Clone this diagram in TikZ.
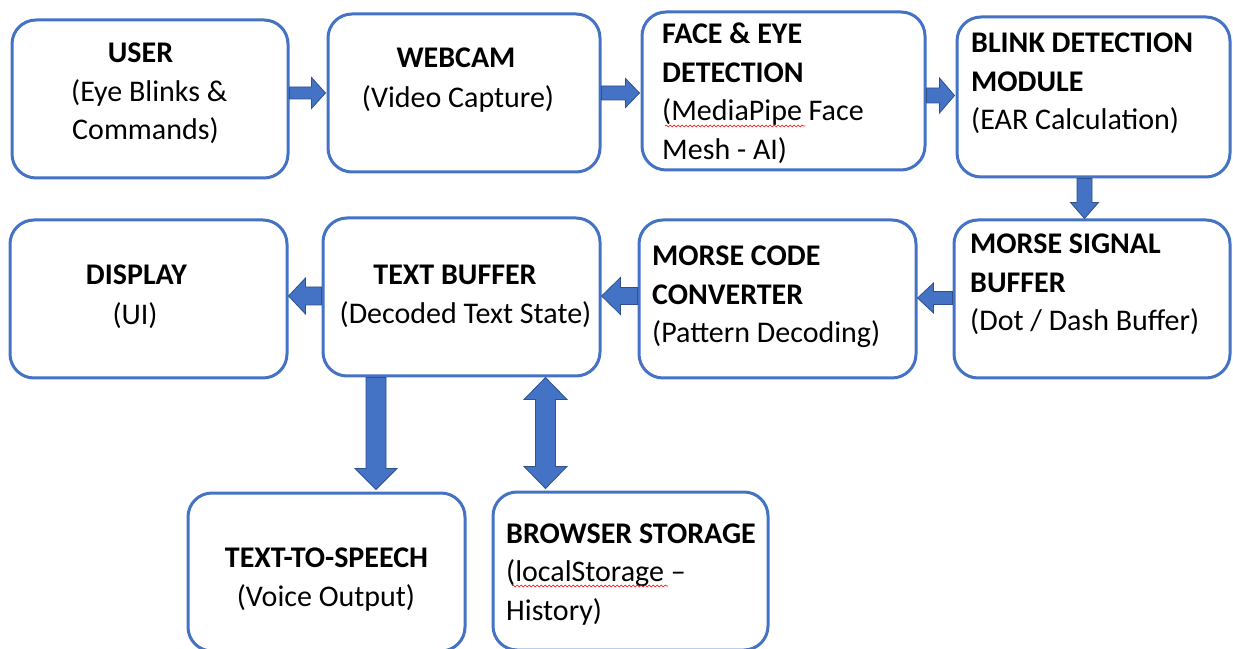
\documentclass[tikz,border=0pt]{standalone}
\usepackage{fontspec}
\setmainfont{Carlito}
\usetikzlibrary{calc,decorations.pathmorphing}
\definecolor{boxblue}{HTML}{4472C4}
\definecolor{arrowedge}{HTML}{2F528F}
\tikzset{
  box/.style={draw=boxblue, line width=3pt, rounded corners=24pt, fill=white,
    inner sep=0pt, minimum width=276pt, minimum height=158pt},
  txt/.style={font=\fontsize{30}{38.5}\selectfont, inner sep=0pt, anchor=base},
  ttl/.style={txt, font=\fontsize{30}{38.5}\selectfont\bfseries},
  lft/.style={anchor=base west},
  barrow/.style={fill=boxblue, draw=arrowedge, line width=0.8pt, line join=miter},
  squig/.style={draw=red, line width=0.6pt, decorate,
    decoration={snake, segment length=4pt, amplitude=0.9pt}}
}
% horizontal block arrow: start, tip, y, shaft half, head half, signed head length
\newcommand{\blkH}[6]{%
  \filldraw[barrow] let \p1=#1, \p2=#2 in
    (\x1,{#3pt+#4pt}) -- ({\x2-(#6pt)},{#3pt+#4pt}) -- ({\x2-(#6pt)},{#3pt+#5pt})
    -- (\x2,#3pt) -- ({\x2-(#6pt)},{#3pt-#5pt}) -- ({\x2-(#6pt)},{#3pt-#4pt})
    -- (\x1,{#3pt-#4pt}) -- cycle;}
% vertical block arrow (downwards): start, tip, x, shaft half, head half, head length
\newcommand{\blkV}[6]{%
  \filldraw[barrow] let \p1=#1, \p2=#2 in
    ({#3pt+#4pt},\y1) -- ({#3pt+#4pt},{\y2+#6pt}) -- ({#3pt+#5pt},{\y2+#6pt})
    -- (#3pt,\y2) -- ({#3pt-#5pt},{\y2+#6pt}) -- ({#3pt-#4pt},{\y2+#6pt})
    -- ({#3pt-#4pt},\y1) -- cycle;}
% vertical double block arrow: top tip, bottom tip, x, shaft half, head half, head length
\newcommand{\blkVV}[6]{%
  \filldraw[barrow] let \p1=#1, \p2=#2 in
    (#3pt,\y1) -- ({#3pt+#5pt},{\y1-#6pt}) -- ({#3pt+#4pt},{\y1-#6pt})
    -- ({#3pt+#4pt},{\y2+#6pt}) -- ({#3pt+#5pt},{\y2+#6pt}) -- (#3pt,\y2)
    -- ({#3pt-#5pt},{\y2+#6pt}) -- ({#3pt-#4pt},{\y2+#6pt})
    -- ({#3pt-#4pt},{\y1-#6pt}) -- ({#3pt-#5pt},{\y1-#6pt}) -- cycle;}
\begin{document}
\begin{tikzpicture}[x=1pt,y=1pt]
\useasboundingbox (0,0) rectangle (1233,648);
\fill[white] (0,0) rectangle (1233,648);

% boxes
\node[box] (user)    at (150,549) {};
\node[box, minimum width=272pt] (webcam)  at (464,555) {};
\node[box, minimum width=283pt] (face)    at (783.5,557) {};
\node[box, minimum width=273pt, minimum height=160pt] (blink) at (1093.5,551) {};
\node[box, minimum width=277pt] (display) at (148.5,349) {};
\node[box, minimum width=277pt] (textbuf) at (461.5,351) {};
\node[box, minimum width=277pt] (morse)   at (777.5,349) {};
\node[box] (signal)  at (1092,349) {};
\node[box, minimum width=277pt] (tts)     at (326.5,76) {};
\node[box, minimum width=275pt] (storage) at (630.5,77) {};

% texts
\node[ttl] (user1) at (140.5,585) {USER};
\node[txt,lft] (user2) at (71,546.5) {(Eye Blinks \&};
\node[txt,lft] (user3) at (72,508) {Commands)};

\node[ttl] (webcam1) at (456,580) {WEBCAM};
\node[txt] (webcam2) at (458,540) {(Video Capture)};

\node[ttl,lft] (face1) at (662,604) {FACE \& EYE};
\node[ttl,lft] (face2) at (662,565.5) {DETECTION};
\node[txt,lft] (face3) at (662,527) {(MediaPipe Face};
\node[txt,lft] (face4) at (662,488.5) {Mesh - AI)};

\node[ttl,lft] (blink1) at (971,595) {BLINK DETECTION};
\node[ttl,lft] (blink2) at (971,556.5) {MODULE};
\node[txt,lft] (blink3) at (971,518) {(EAR Calculation)};

\node[ttl] (display1) at (136.5,363) {DISPLAY};
\node[txt] (display2) at (135,323) {(UI)};

\node[ttl] (textbuf1) at (455,363) {TEXT BUFFER};
\node[txt] (textbuf2) at (465.5,324) {(Decoded Text State)};

\node[ttl,lft] (morse1) at (652,382) {MORSE CODE};
\node[ttl,lft] (morse2) at (652,343.5) {CONVERTER};
\node[txt,lft] (morse3) at (652,305) {(Pattern Decoding)};

\node[ttl,lft] (signal1) at (970,394) {MORSE SIGNAL};
\node[ttl,lft] (signal2) at (970,355.5) {BUFFER};
\node[txt,lft] (signal3) at (970,317) {(Dot / Dash Buffer)};

\node[ttl] (tts1) at (326.5,81) {TEXT-TO-SPEECH};
\node[txt] (tts2) at (326,42) {(Voice Output)};

\node[ttl,lft] (storage1) at (506,105) {BROWSER STORAGE};
\node[txt,lft] (storage2) at (506,66.5) {(localStorage –};
\node[txt,lft] (storage3) at (506,28) {History)};

% spell-check squiggles
\draw[squig] (665,522) -- (805,522);
\draw[squig] (512,62) -- (668,62);

% arrows
\blkH{(user.east)}{($(webcam.west)+(-1,0)$)}{555}{6}{15.5}{14}
\blkH{(webcam.east)}{($(face.west)+(-1,0)$)}{555}{7}{14.5}{14}
\blkH{(face.east)}{($(blink.west)+(-1,0)$)}{552.5}{7.5}{17.5}{15}
\blkV{(blink.south)}{(signal.north)}{1084.5}{7.5}{14}{16}
\blkH{(signal.west)}{(morse.east)}{350}{6.5}{15}{-16}
\blkH{(morse.west)}{(textbuf.east)}{352}{8.5}{18.5}{-19}
\blkH{(textbuf.west)}{(display.east)}{352}{9}{18}{-17}
\blkV{(textbuf.south)}{($(tts.north)+(0,2)$)}{376}{10}{21}{21}
\blkVV{(textbuf.south)}{($(storage.north)+(0,2)$)}{545.5}{10}{21.5}{22}
\end{tikzpicture}
\end{document}
